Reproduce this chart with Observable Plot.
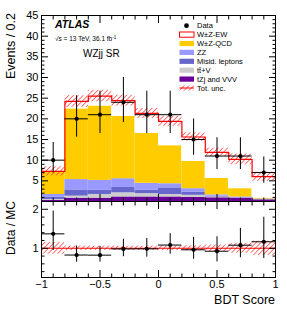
<!DOCTYPE html>
<html><head><meta charset="utf-8">
<script src="https://cdn.jsdelivr.net/npm/d3@7"></script>
<script src="https://cdn.jsdelivr.net/npm/@observablehq/plot@0.6"></script>
<style>
body{margin:0;background:#fff;}
#c{width:287px;height:310px;position:relative;}
#c svg{display:block;overflow:visible;}
</style>
</head><body>
<svg width="0" height="0" style="position:absolute">
  <defs>
    <pattern id="hatchA" patternUnits="userSpaceOnUse" width="3.4" height="3.4" patternTransform="rotate(45)">
      <rect x="0" y="0" width="0.75" height="3.4" fill="#ff4545" style="fill:#ff4545;stroke:none"></rect>
    </pattern>
  </defs>
</svg>
<div id="c"></div>
<script>
// ---- data ----
const binEdges = [-1,-0.8,-0.6,-0.4,-0.2,0,0.2,0.4,0.6,0.8,1];
const dataCounts = [10,20,21,24,21,21,15,11,11,7];
const dataLow  = [6.89,15.56,16.45,19.12,16.45,16.45,11.18,7.73,7.73,4.42];
const dataHigh = [14.27,25.58,26.69,30.02,26.69,26.69,19.96,15.42,15.42,10.78];
const tzjVVV  = [0.3,0.8,0.8,1.1,1.1,1.1,1.0,0.9,0.8,0.4];
const ttV     = [0.2,0.5,0.9,1.0,0.8,0.6,0.5,0.2,0.05,0.05];
const misid   = [0.5,1.5,1.0,1.3,0.8,1.6,0.8,0.2,0.05,0.05];
const zz      = [0.7,2.5,2.4,2.1,1.7,1.0,0.8,0.3,0.2,0.1];
const wzQCD   = [5.4,17.1,18.0,15.1,12.1,9.2,6.6,4.0,2.0,0.2];
const wzEW    = [0.2,1.8,2.4,3.8,4.8,5.9,5.9,6.3,7.1,5.2];
const totUnc  = [1.1,1.4,1.4,1.3,1.2,1.2,1.0,1.0,1.3,1.1];
const procNames  = ["tZj and VVV","tt+V","Misid. leptons","ZZ","W±Z-QCD","W±Z-EW"];
const procColors = ["#660099","#cccccc","#6666cc","#9999ff","#ffcc00","#ffffff"];
const procValues = [tzjVVV, ttV, misid, zz, wzQCD, wzEW];
const xTickLabels = [-1,-0.5,0,0.5,1];
const yTickLabels = [5,10,15,20,25,30,35,40,45];
const rTickLabels = [1,2];

// ---- derived tables ----
const nb = dataCounts.length;
const bins = d3.range(nb).map(i => {
  const total = d3.sum(procValues, a => a[i]);
  return {x1: binEdges[i], x2: binEdges[i+1], c: (binEdges[i]+binEdges[i+1])/2,
    d: dataCounts[i], lo: dataLow[i], hi: dataHigh[i], total, unc: totUnc[i],
    r: dataCounts[i]/total, rlo: dataLow[i]/total, rhi: dataHigh[i]/total,
    u1: (total-totUnc[i]), u2: (total+totUnc[i]),
    ru1: 1-totUnc[i]/total, ru2: 1+totUnc[i]/total};
});
const stackRows = [];
bins.forEach((b,i) => {
  let acc = 0;
  procNames.forEach((p,k) => {
    const v = procValues[k][i];
    stackRows.push({x1:b.x1, x2:b.x2, proc:p, y1:acc, y2:acc+v});
    acc += v;
  });
});
const stepPts = bins.map(b => ({x:b.x1, y:b.total})).concat([{x:1, y:bins[nb-1].total}]);

const font = "'Liberation Sans', Arial, Helvetica, sans-serif";
const minorX = d3.range(-10,11).filter(i => i%5 !== 0).map(i => i/10);
const majorX = [-1,-0.5,0,0.5,1];
const minorY = d3.range(0,46).filter(i => i%5 !== 0);
const majorY = [0].concat(yTickLabels);
const blank = () => "";
const fmt = d => String(d).replace("-", "\u2212");

// ---- top panel ----
const topPlot = Plot.plot({
  width: 287, height: 202,
  marginLeft: 41, marginRight: 12, marginTop: 15, marginBottom: 1,
  style: {fontFamily: font, fontSize: "11px", color: "black", background: "white"},
  x: {domain: [-1,1], axis: null},
  y: {domain: [0,45], axis: null},
  color: {domain: procNames, range: procColors},
  marks: [
    Plot.rect(stackRows, {x1:"x1", x2:"x2", y1:"y1", y2:"y2", fill:"proc", inset:0}),
    Plot.rect(bins, {x1:"x1", x2:"x2", y1:"u1", y2:"u2", fill:"url(#hatchA)", inset:0}),
    Plot.line(stepPts, {x:"x", y:"y", curve:"step-after", stroke:"#ff0000", strokeWidth:1.2}),
    Plot.ruleX(bins, {x:"c", y1:"lo", y2:"hi", stroke:"black", strokeWidth:1}),
    Plot.ruleY(bins, {y:"d", x1:"x1", x2:"x2", stroke:"black", strokeWidth:1}),
    Plot.dot(bins, {x:"c", y:"d", r:2.1, fill:"black"}),
    Plot.axisY({anchor:"left", ticks: majorY, tickSize:-7, tickPadding:10, label:null, tickFormat: d => d===0 ? "" : fmt(d), fontSize:11}),
    Plot.axisY({anchor:"left", ticks: minorY, tickSize:-3.5, label:null, tickFormat: blank}),
    Plot.axisY({anchor:"right", ticks: majorY, tickSize:-7, label:null, tickFormat: blank}),
    Plot.axisY({anchor:"right", ticks: minorY, tickSize:-3.5, label:null, tickFormat: blank}),
    Plot.axisX({anchor:"top", ticks: majorX, tickSize:-7, label:null, tickFormat: blank}),
    Plot.axisX({anchor:"top", ticks: minorX, tickSize:-3.5, label:null, tickFormat: blank}),
    Plot.axisX({anchor:"bottom", ticks: majorX, tickSize:-7, label:null, tickFormat: blank}),
    Plot.axisX({anchor:"bottom", ticks: minorX, tickSize:-3.5, label:null, tickFormat: blank}),
    Plot.frame({stroke:"black", strokeWidth:1})
  ]
});

// ---- ratio panel ----
const minorR = d3.range(2,12).map(i => +(i*0.2).toFixed(1)).filter(v => v!==1 && v!==2);
const bottomPlot = Plot.plot({
  width: 287, height: 110,
  marginLeft: 41, marginRight: 12, marginTop: 1, marginBottom: 33,
  style: {fontFamily: font, fontSize: "11px", color: "black", background: "transparent"},
  x: {domain: [-1,1], axis: null},
  y: {domain: [0.25,2.2], axis: null},
  marks: [
    Plot.rect(bins, {x1:"x1", x2:"x2", y1:"ru1", y2:"ru2", fill:"url(#hatchA)", inset:0}),
    Plot.ruleY([1], {stroke:"#ff0000", strokeWidth:1.2}),
    Plot.ruleX(bins, {x:"c", y1:"rlo", y2:"rhi", stroke:"black", strokeWidth:1}),
    Plot.ruleY(bins, {y:"r", x1:"x1", x2:"x2", stroke:"black", strokeWidth:1}),
    Plot.dot(bins, {x:"c", y:"r", r:2.1, fill:"black"}),
    Plot.axisY({anchor:"left", ticks: rTickLabels, tickSize:-7, tickPadding:10, label:null, tickFormat: fmt, fontSize:11}),
    Plot.axisY({anchor:"left", ticks: minorR, tickSize:-3.5, label:null, tickFormat: blank}),
    Plot.axisY({anchor:"right", ticks: rTickLabels, tickSize:-7, label:null, tickFormat: blank}),
    Plot.axisY({anchor:"right", ticks: minorR, tickSize:-3.5, label:null, tickFormat: blank}),
    Plot.axisX({anchor:"bottom", ticks: xTickLabels, tickSize:-7, tickPadding:10, label:null, tickFormat: fmt, fontSize:11}),
    Plot.axisX({anchor:"bottom", ticks: minorX, tickSize:-3.5, label:null, tickFormat: blank}),
    Plot.axisX({anchor:"top", ticks: majorX, tickSize:-7, label:null, tickFormat: blank}),
    Plot.axisX({anchor:"top", ticks: minorX, tickSize:-3.5, label:null, tickFormat: blank}),
    Plot.frame({stroke:"black", strokeWidth:1})
  ]
});
bottomPlot.style.marginTop = "-2px";

const cont = document.getElementById("c");
cont.appendChild(topPlot);
cont.appendChild(bottomPlot);

const ts = d3.select(topPlot);

// labels (top)
const T = (sel, x, y, size, txt) => sel.append("text").attr("x",x).attr("y",y)
  .style("font-family",font).style("font-size",size+"px").style("text-anchor","start")
  .style("fill","black").text(txt);
T(ts,55,28,10.5,"ATLAS").style("font-weight","bold").style("font-style","italic");
const sq = T(ts,55,41,6.5,"");
sq.append("tspan").text("√s = 13 TeV, 36.1 fb");
sq.append("tspan").attr("dy",-2.5).style("font-size","4.5px").text("-1");
T(ts,83,57,10,"WZjj SR");
T(ts,0,0,12.5,"Events / 0.2").attr("x",null).attr("y",null)
  .attr("transform","translate(15,13) rotate(-90)").style("text-anchor","end");

// legend
const legItems = [
  {label:"Data", type:"dot"},
  {label:"W±Z-EW", type:"box", fill:"#ffffff", stroke:"#ff0000"},
  {label:"W±Z-QCD", type:"box", fill:"#ffcc00"},
  {label:"ZZ", type:"box", fill:"#9999ff"},
  {label:"Misid. leptons", type:"box", fill:"#6666cc"},
  {label:"tt̄+V", type:"box", fill:"#cccccc"},
  {label:"tZj and VVV", type:"box", fill:"#660099"},
  {label:"Tot. unc.", type:"unc"}
];
const lg = ts.append("g");
legItems.forEach((it,i) => {
  const y = 25.7 + i*8.9;
  if (it.type === "dot") {
    lg.append("circle").attr("cx",186.5).attr("cy",y).attr("r",2.4).style("fill","black");
  } else if (it.type === "box") {
    lg.append("rect").attr("x",179.5).attr("y",y-2.6).attr("width",14.5).attr("height",5.2)
      .style("fill",it.fill).style("stroke",it.stroke || "none").style("stroke-width","1px");
  } else {
    lg.append("rect").attr("x",179.5).attr("y",y-2.6).attr("width",14.5).attr("height",5.2).style("fill","url(#hatchA)");
    lg.append("line").attr("x1",179.5).attr("x2",194).attr("y1",y).attr("y2",y).style("stroke","#ff0000").style("stroke-width","1px");
  }
  T(lg,197,y,7.5,it.label).attr("dy","0.35em");
});

// labels (bottom)
const bs = d3.select(bottomPlot);
T(bs,0,0,12,"Data / MC").attr("x",null).attr("y",null)
  .attr("transform","translate(15,1) rotate(-90)").style("text-anchor","end");
T(bs,275,104,12.5,"BDT Score").style("text-anchor","end");
</script>
</body></html>
